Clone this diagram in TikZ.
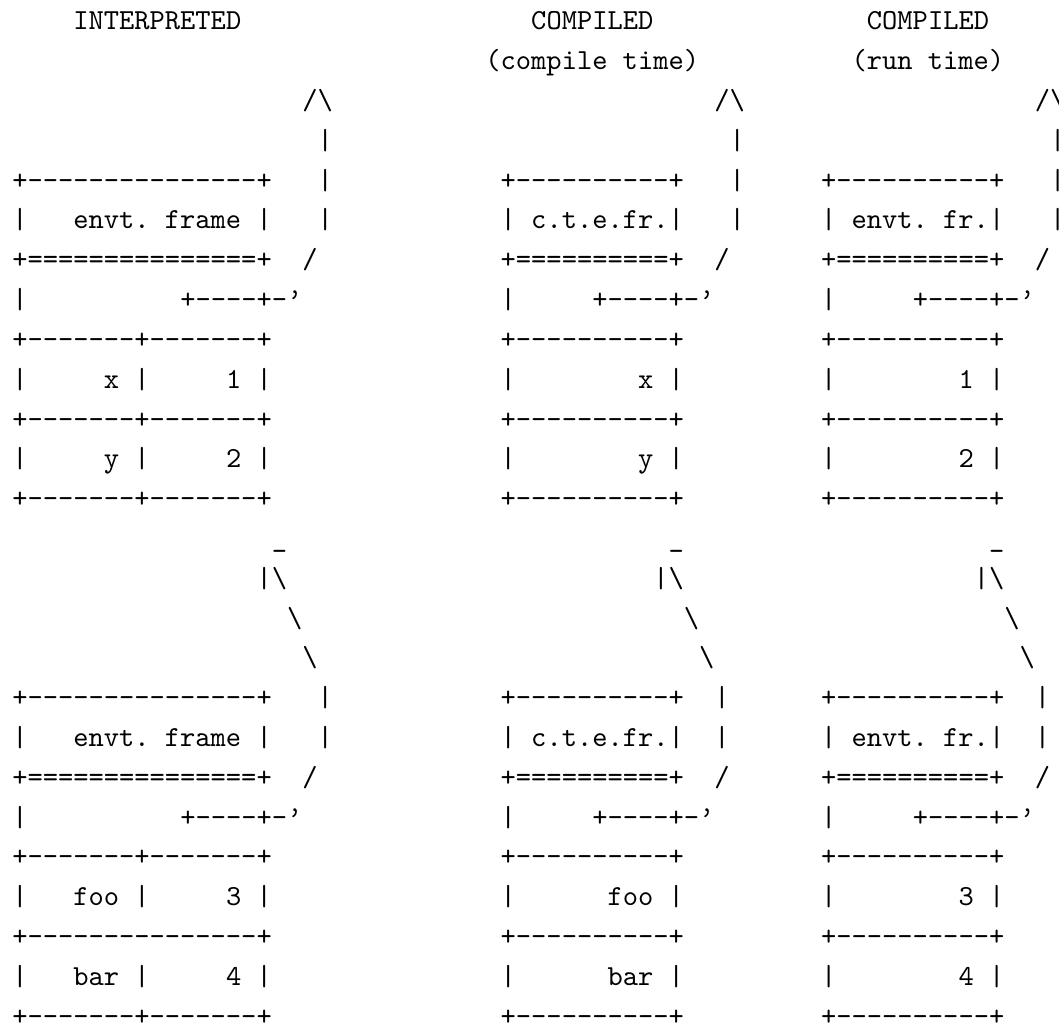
\documentclass[tikz,border=0pt]{standalone}
\usepackage{fontspec}
\usepackage{tikz}
\usetikzlibrary{positioning}

\newfontfamily\asciitt{lmmono10-regular.otf}
\newcommand\asciifont{\fontsize{14.53pt}{17pt}\selectfont\asciitt\frenchspacing}

\begin{document}
\begin{tikzpicture}[
    x=7.63pt, y=-19.9pt,
    tt/.style={anchor=base west, inner sep=0pt, outer sep=0pt, text depth=0pt,
               font=\asciifont}
  ]
  \useasboundingbox (-6.2pt,15pt) rectangle ++(529.5pt,-513pt);

  % --- Encabezados ---
  \node[tt] (hinterp) at (4,0)  {INTERPRETED};
  \node[tt] (hcomp)   at (34,0) {COMPILED};
  \node[tt] (hrun)    at (56,0) {COMPILED};
  \node[tt] (scomp)   at (31,1) {(compile time)};
  \node[tt] (srun)    at (55,1) {(run time)};

  % --- Marcos interpretados ---
  \foreach \y/\s in {4/a, 17/b} {
    \node[tt] (ltop\s)  at (0,\y)    {+---------------+};
    \node[tt] (lbl\s)   at (0,\y+1)  {|};
    \node[tt] (lname\s) at (4,\y+1)  {envt. frame};
    \node[tt] (lbr\s)   at (16,\y+1) {|};
    \node[tt] (lsep\s)  at (0,\y+2)  {+===============+};
    \node[tt] (llk\s)   at (0,\y+3)  {|};
    \node[tt] (lptr\s)  at (11,\y+3) {+----+-’};
  }

  % --- Marcos compilados ---
  \foreach \x/\p/\lab in {32/m/c.t.e.fr., 53/r/envt. fr.} {
    \foreach \y/\s in {4/a, 17/b} {
      \node[tt] (\p top\s)  at (\x,\y)       {+----------+};
      \node[tt] (\p bl\s)   at (\x,\y+1)     {|};
      \node[tt] (\p name\s) at (\x+2,\y+1)   {\lab};
      \node[tt] (\p br\s)   at (\x+11,\y+1)  {|};
      \node[tt] (\p sep\s)  at (\x,\y+2)     {+==========+};
      \node[tt] (\p lk\s)   at (\x,\y+3)     {|};
      \node[tt] (\p ptr\s)  at (\x+6,\y+3)   {+----+-’};
    }
  }

  % --- Tablas de ligaduras ---
  \foreach \y [count=\i] in {8,10,12,21,25}
    \node[tt] (lrule\i) at (0,\y) {+-------+-------+};
  \node[tt] (lrule6) at (0,23) {+---------------+};
  \foreach \y [count=\i] in {8,10,12,21,23,25} {
    \node[tt] (mrule\i) at (32,\y) {+----------+};
    \node[tt] (rrule\i) at (53,\y) {+----------+};
  }
  \foreach \y/\var/\val/\vx [count=\i] in {9/x/1/6, 11/y/2/6, 22/foo/3/4, 24/bar/4/4} {
    \node[tt] (lva\i)  at (0,\y)   {|};
    \node[tt] (lvar\i) at (\vx,\y) {\var};
    \node[tt] (lvb\i)  at (8,\y)   {|};
    \node[tt] (lval\i) at (14,\y)  {\val};
    \node[tt] (lvc\i)  at (16,\y)  {|};
    \node[tt] (mva\i)  at (32,\y)  {|};
    \node[tt] (mvar\i) at (\vx+35,\y) {\var};
    \node[tt] (mvb\i)  at (43,\y)  {|};
    \node[tt] (rva\i)  at (53,\y)  {|};
    \node[tt] (rval\i) at (62,\y)  {\val};
    \node[tt] (rvb\i)  at (64,\y)  {|};
  }

  % --- Flechas hacia el marco padre ---
  \foreach \x [count=\i] in {19,46,67}
    \node[tt] (punta\i) at (\x,2) {/\textbackslash};
  \foreach \x/\y [count=\i] in {20/3,20/4,20/5,47/3,47/4,47/5,68/3,68/4,68/5,
                                20/17,20/18,46/17,46/18,67/17,67/18}
    \node[tt] (palo\i) at (\x,\y) {|};
  \foreach \x/\y [count=\i] in {19/6,46/6,67/6,19/19,46/19,67/19}
    \node[tt] (codo\i) at (\x,\y) {/};

  % --- Flechas entre marcos ---
  \foreach \x [count=\i] in {17,43,64} {
    \node[tt] (tope\i)  at (\x,13)   {\_};
    \node[tt] (cola\i)  at (\x-1,14) {|\textbackslash};
    \node[tt] (diag\i)  at (\x+1,15) {\textbackslash};
    \node[tt] (diagb\i) at (\x+2,16) {\textbackslash};
  }
\end{tikzpicture}
\end{document}
